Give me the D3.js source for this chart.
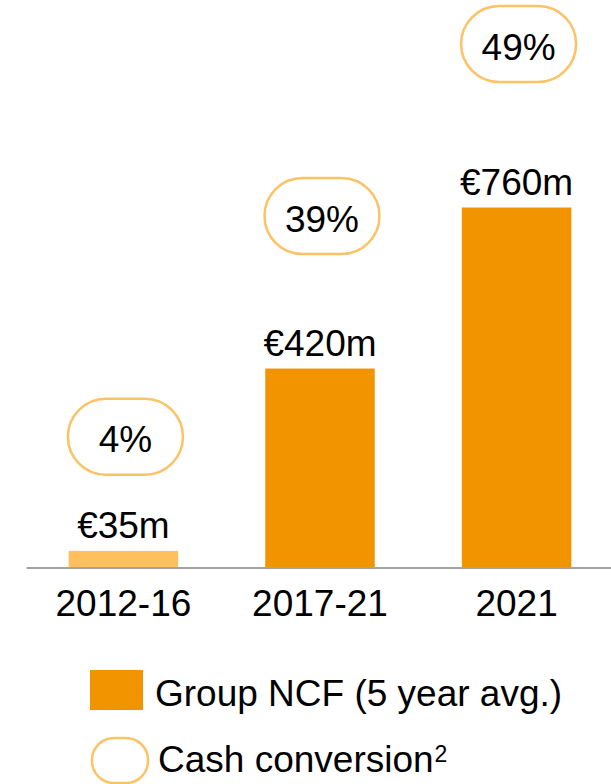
<!DOCTYPE html>
<html>
<head>
	<title>Group NCF</title>
	<meta charset='utf-8'>
	<style>
		body {
			margin: 0;
			background: #fff;
		}

		svg text {
			font-family: 'Liberation Sans', Arial, sans-serif;
			font-size: 37px;
			fill: #000;
		}

		.axis path.domain {
			stroke: #a3a3a3;
			stroke-width: 2px;
		}

		.axis .tick line {
			display: none;
		}

		.pill {
			fill: #fff;
			stroke: #fdc264;
			stroke-width: 2.5px;
		}
	</style>
</head>
<body>
<div id="chart"></div>
<script src='https://d3js.org/d3.v7.min.js'></script>
<script>
	'use strict';

	// данные
	const periods = ['2012-16', '2017-21', '2021'];
	const ncfValues = [35, 420, 760];
	const ncfLabels = ['€35m', '€420m', '€760m'];
	const conversion = ['4%', '39%', '49%'];
	const legendLabels = ['Group NCF (5 year avg.)', 'Cash conversion'];

	const width = 611;
	const height = 784;
	const baseY = 567.5;

	const xScale = d3.scaleBand()
		.domain(periods)
		.range([26, 614])
		.paddingInner(0.443)
		.paddingOuter(0.217);

	const yScale = d3.scaleLinear()
		.domain([0, 760])
		.range([baseY, 207.5]);

	// где стоят овалы с процентами (в единицах оси y)
	const pillLevel = [276, 742, 1105];
	const pillW = 115;
	const pillH = 76;

	const svg = d3.select('#chart').append('svg')
		.attr('width', width)
		.attr('height', height);

	// столбики
	svg.selectAll('rect.bar')
		.data(ncfValues)
		.enter().append('rect')
		.attr('class', 'bar')
		.attr('x', (d, i) => xScale(periods[i]))
		.attr('y', d => yScale(d))
		.attr('width', xScale.bandwidth())
		.attr('height', d => baseY - yScale(d))
		.attr('fill', (d, i) => i === 0 ? '#fec05c' : '#f29400');

	// подписи значений
	svg.selectAll('text.value')
		.data(ncfValues)
		.enter().append('text')
		.attr('class', 'value')
		.attr('x', (d, i) => xScale(periods[i]) + xScale.bandwidth() / 2)
		.attr('y', d => yScale(d) - 13)
		.attr('text-anchor', 'middle')
		.text((d, i) => ncfLabels[i]);

	// ось x
	svg.append('g')
		.attr('class', 'axis')
		.attr('transform', 'translate(0,' + baseY + ')')
		.call(d3.axisBottom(xScale).tickSize(0).tickPadding(22))
		.call(g => g.selectAll('.tick text')
			.attr('font-size', null)
			.attr('font-family', null)
			.attr('fill', null))
		.call(g => g.attr('font-size', null).attr('font-family', null));

	// овалы
	const pills = svg.selectAll('g.pill-g')
		.data(conversion)
		.enter().append('g')
		.attr('class', 'pill-g')
		.attr('transform', (d, i) => 'translate(' +
			(xScale(periods[i]) + xScale.bandwidth() / 2 + 2) + ',' + yScale(pillLevel[i]) + ')');

	pills.append('rect')
		.attr('class', 'pill')
		.attr('x', -pillW / 2)
		.attr('y', -pillH / 2)
		.attr('width', pillW)
		.attr('height', pillH)
		.attr('rx', pillH / 2);

	pills.append('text')
		.attr('text-anchor', 'middle')
		.attr('dy', '0.42em')
		.text(d => d);

	// легенда
	const legend = svg.append('g');
	legend.append('rect')
		.attr('x', 90)
		.attr('y', 670)
		.attr('width', 53)
		.attr('height', 40)
		.attr('fill', '#f29400');
	legend.append('text')
		.attr('x', 155)
		.attr('y', 705.5)
		.text(legendLabels[0]);

	legend.append('rect')
		.attr('class', 'pill')
		.attr('x', 92)
		.attr('y', 738)
		.attr('width', 56)
		.attr('height', 45)
		.attr('rx', 22);
	const conv = legend.append('text')
		.attr('x', 158)
		.attr('y', 772)
		.text(legendLabels[1]);
	conv.append('tspan')
		.attr('dx', 1)
		.attr('dy', -10)
		.style('font-size', '23px')
		.text('2');
</script>
</body>
</html>
